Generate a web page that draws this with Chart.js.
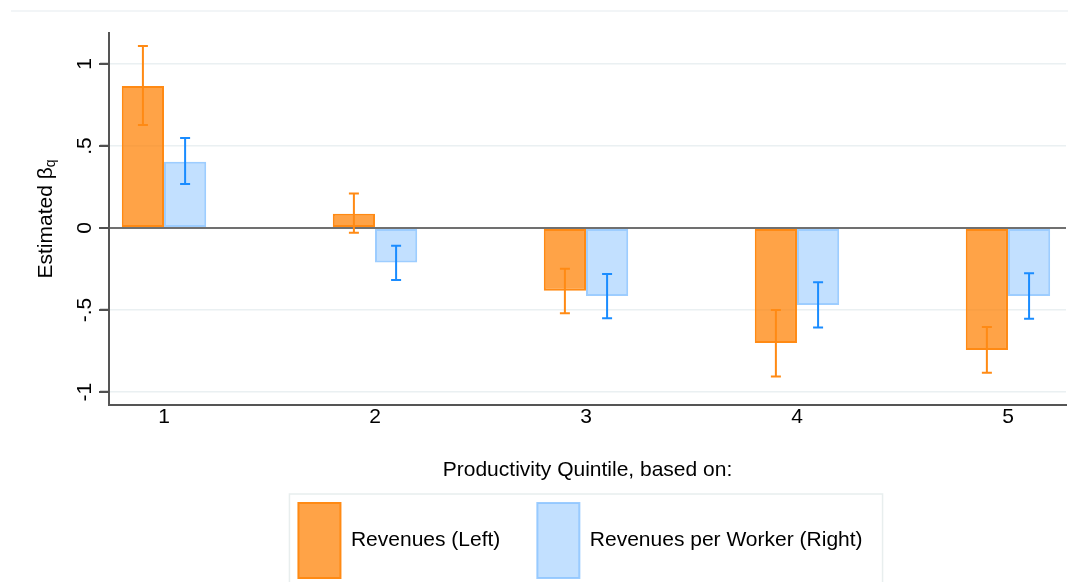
<!DOCTYPE html>
<html><head><meta charset="utf-8">
<script src="https://cdn.jsdelivr.net/npm/chart.js@4"></script>
<style>html,body{margin:0;padding:0;background:#fff;}</style>
</head><body>
<canvas id="c" width="1068" height="582" style="width:1068px;height:582px;display:block"></canvas>
<script>
const quintiles = [1, 2, 3, 4, 5];
const xTickLabels = ['1', '2', '3', '4', '5'];
const revenuesLeft   = [0.866, 0.087, -0.382, -0.701, -0.744];
const revenuesLeftLo = [0.628, -0.029, -0.520, -0.905, -0.882];
const revenuesLeftHi = [1.110, 0.210, -0.248, -0.500, -0.604];
const rpwRight   = [0.404, -0.210, -0.415, -0.470, -0.415];
const rpwRightLo = [0.268, -0.317, -0.550, -0.606, -0.553];
const rpwRightHi = [0.549, -0.108, -0.280, -0.331, -0.276];
const yTickValues = [-1, -0.5, 0, 0.5, 1];
const yTickLabels = ['-1', '-.5', '0', '.5', '1'];
const seriesNames = ['Revenues (Left)', 'Revenues per Worker (Right)'];
const xTitle = 'Productivity Quintile, based on:';
const yTitleMain = 'Estimated \u03B2';
const yTitleSub = 'q';

const FONT = "'Liberation Sans', Arial, sans-serif";
Chart.defaults.font.family = FONT;
Chart.defaults.color = '#000';

const errorBars = {
  id: 'errorBars',
  afterDatasetsDraw(chart) {
    const ctx = chart.ctx, ys = chart.scales.y;
    chart.data.datasets.forEach((ds, i) => {
      const meta = chart.getDatasetMeta(i);
      ctx.save();
      ctx.strokeStyle = ds.errColor;
      ctx.lineWidth = 2;
      meta.data.forEach((el, j) => {
        const x = el.x;
        const y1 = ys.getPixelForValue(ds.errLo[j]);
        const y2 = ys.getPixelForValue(ds.errHi[j]);
        ctx.beginPath();
        ctx.moveTo(x, y1); ctx.lineTo(x, y2);
        ctx.moveTo(x - 5, y1); ctx.lineTo(x + 5, y1);
        ctx.moveTo(x - 5, y2); ctx.lineTo(x + 5, y2);
        ctx.stroke();
      });
      ctx.restore();
    });
  }
};

const decor = {
  id: 'decor',
  beforeDraw(chart) {
    const ctx = chart.ctx;
    ctx.save();
    ctx.strokeStyle = '#eef2f4';
    ctx.lineWidth = 1.5;
    ctx.beginPath(); ctx.moveTo(11, 11); ctx.lineTo(chart.width, 11); ctx.stroke();
    ctx.restore();
  },
  afterDraw(chart) {
    const ctx = chart.ctx, ys = chart.scales.y, ca = chart.chartArea;
    // legend frame
    const hb = chart.legend.legendHitBoxes;
    if (hb && hb.length) {
      const l = hb[0].left - 9, t = hb[0].top - 9;
      const last = hb[hb.length - 1];
      const r = last.left + last.width + 20;
      ctx.save();
      ctx.strokeStyle = '#e8eeee';
      ctx.lineWidth = 1.5;
      ctx.beginPath();
      ctx.moveTo(l, chart.height + 2); ctx.lineTo(l, t); ctx.lineTo(r, t); ctx.lineTo(r, chart.height + 2);
      ctx.stroke();
      ctx.restore();
    }
    // y tick marks
    ctx.save();
    ctx.strokeStyle = '#505050';
    ctx.lineWidth = 2;
    yTickValues.forEach((v) => {
      const y = Math.round(ys.getPixelForValue(v));
      ctx.beginPath(); ctx.moveTo(ca.left - 10, y); ctx.lineTo(ca.left, y); ctx.stroke();
    });
    ctx.restore();
    // rotated y tick labels
    ctx.save();
    ctx.fillStyle = '#000';
    ctx.font = '21px ' + FONT;
    ctx.textAlign = 'center';
    ctx.textBaseline = 'middle';
    yTickValues.forEach((v, i) => {
      const y = ys.getPixelForValue(v);
      ctx.save();
      ctx.translate(85, y);
      ctx.rotate(-Math.PI / 2);
      ctx.fillText(yTickLabels[i], 0, 0);
      ctx.restore();
    });
    // y title with subscript
    const cy = (ca.top + ca.bottom) / 2;
    ctx.font = '21px ' + FONT;
    const wMain = ctx.measureText(yTitleMain).width;
    ctx.font = '14px ' + FONT;
    const wSub = ctx.measureText(yTitleSub).width;
    const total = wMain + wSub;
    ctx.translate(52, cy);
    ctx.rotate(-Math.PI / 2);
    ctx.textAlign = 'left';
    ctx.textBaseline = 'alphabetic';
    ctx.font = '21px ' + FONT;
    ctx.fillText(yTitleMain, -total / 2, 0);
    ctx.font = '14px ' + FONT;
    ctx.fillText(yTitleSub, -total / 2 + wMain, 2.5);
    ctx.restore();
  }
};

new Chart(document.getElementById('c'), {
  type: 'bar',
  data: {
    datasets: [
      {
        label: seriesNames[0],
        data: quintiles.map((q, i) => ({ x: q, y: revenuesLeft[i] })),
        backgroundColor: 'rgba(255,128,0,0.72)',
        borderColor: '#ff8a14',
        borderWidth: 2,
        borderSkipped: false,
        errLo: revenuesLeftLo, errHi: revenuesLeftHi, errColor: '#ff8a14'
      },
      {
        label: seriesNames[1],
        data: quintiles.map((q, i) => ({ x: q, y: rpwRight[i] })),
        backgroundColor: 'rgba(153,204,255,0.6)',
        borderColor: 'rgba(140,196,255,0.85)',
        borderWidth: 2,
        borderSkipped: false,
        errLo: rpwRightLo, errHi: rpwRightHi, errColor: '#1a8cff'
      }
    ]
  },
  options: {
    responsive: false,
    animation: false,
    devicePixelRatio: 1,
    categoryPercentage: 0.4,
    barPercentage: 1.0,
    layout: { padding: { left: 95, right: 2, top: 33, bottom: -6 } },
    plugins: {
      tooltip: { enabled: false },
      legend: {
        position: 'bottom',
        labels: {
          boxWidth: 42, boxHeight: 75, padding: 37,
          font: { size: 21 }, color: '#000'
        }
      }
    },
    scales: {
      x: {
        type: 'linear',
        offset: false,
        min: 0.7393, max: 5.275,
        afterBuildTicks: (s) => { s.ticks = quintiles.map(v => ({ value: v })); },
        ticks: {
          padding: 0,
          font: { size: 21 }, color: '#000',
          autoSkip: false, maxRotation: 0,
          callback: (v) => { const i = quintiles.indexOf(v); return i >= 0 ? xTickLabels[i] : ''; }
        },
        grid: { display: false, drawTicks: false },
        border: { display: true, color: '#555', width: 2 },
        title: {
          display: true, text: xTitle, color: '#000',
          font: { size: 21 },
          padding: { top: 27.2, bottom: -16.6 }
        }
      },
      y: {
        min: -1.079, max: 1.189,
        afterBuildTicks: (s) => { s.ticks = yTickValues.map(v => ({ value: v })); },
        afterFit: (s) => { s.width = 14; },
        ticks: { display: true, color: 'rgba(0,0,0,0)', font: { size: 10 } },
        grid: {
          color: (c) => (c.tick && c.tick.value === 0) ? '#707070' : '#eaf0f2',
          lineWidth: (c) => (c.tick && c.tick.value === 0) ? 2 : 1.5,
          drawTicks: true,
          tickColor: '#505050',
          tickLength: 9,
          tickWidth: 2
        },
        border: { display: true, color: '#555', width: 2 }
      }
    }
  },
  plugins: [errorBars, decor]
});
</script>
</body></html>
